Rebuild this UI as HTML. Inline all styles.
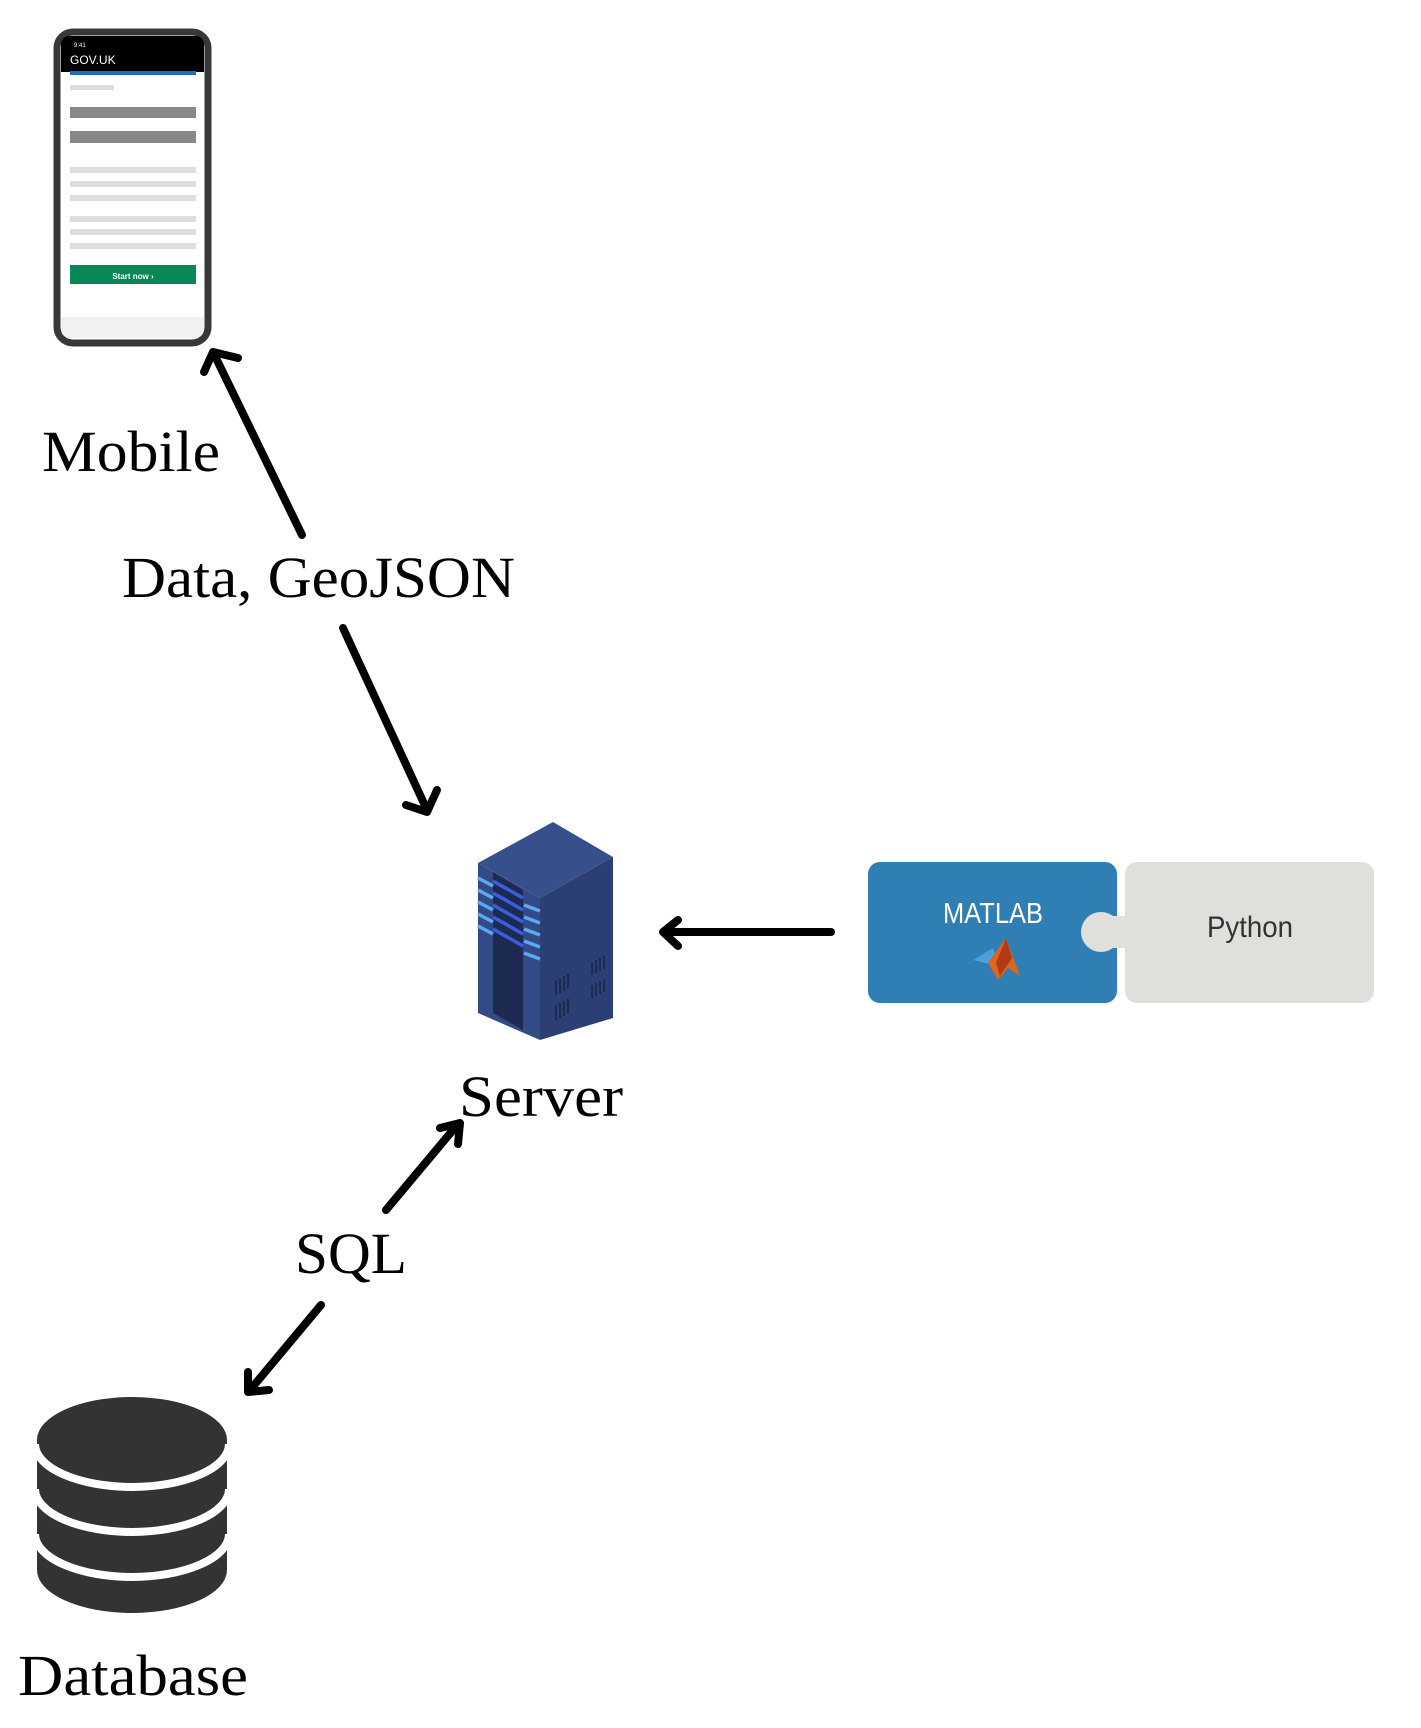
<!DOCTYPE html>
<html><head><meta charset="utf-8"><style>
html,body{margin:0;padding:0;background:#fff;}
svg{display:block;}
</style></head><body>
<svg width="1421" height="1728" viewBox="0 0 1421 1728" xmlns="http://www.w3.org/2000/svg">
<!-- Phone -->
<rect x="57" y="32" width="151" height="311" rx="16" fill="#fff" stroke="#383838" stroke-width="7"/>
<rect x="61" y="36" width="143" height="35" rx="8" fill="#000"/>
<rect x="61" y="52" width="143" height="20" fill="#000"/>
<text x="70" y="64" font-family="Liberation Sans, sans-serif" font-size="12" fill="#fff">GOV.UK</text>
<text x="74" y="47" font-family="Liberation Sans, sans-serif" font-size="6" fill="#fff">9:41</text>
<rect x="70" y="71" width="126" height="4" fill="#1d70b8"/>
<rect x="70" y="85" width="44" height="5" fill="#ddd"/>
<rect x="70" y="107" width="126" height="11" fill="#888"/>
<rect x="70" y="131" width="126" height="12" fill="#888"/>
<rect x="70" y="167" width="126" height="6" fill="#ddd"/>
<rect x="70" y="181" width="126" height="6" fill="#ddd"/>
<rect x="70" y="195" width="126" height="6" fill="#ddd"/>
<rect x="70" y="216" width="126" height="6" fill="#ddd"/>
<rect x="70" y="229" width="126" height="6" fill="#ddd"/>
<rect x="70" y="243" width="126" height="6" fill="#ddd"/>
<rect x="70" y="265" width="126" height="19" fill="#078855"/>
<text x="133" y="279" text-anchor="middle" font-family="Liberation Sans, sans-serif" font-size="8" font-weight="bold" fill="#fff">Start now ›</text>
<path d="M61 317 H204 V328 Q204 338 194 338 H71 Q61 338 61 328 Z" fill="#f2f1f0"/>

<text x="42" y="471" font-family="Liberation Serif, serif" font-size="58" textLength="178" lengthAdjust="spacingAndGlyphs">Mobile</text>
<text x="122" y="597" font-family="Liberation Serif, serif" font-size="58" textLength="393" lengthAdjust="spacingAndGlyphs">Data, GeoJSON</text>
<text x="459" y="1116" font-family="Liberation Serif, serif" font-size="58" textLength="164" lengthAdjust="spacingAndGlyphs">Server</text>
<text x="295" y="1273" font-family="Liberation Serif, serif" font-size="58" textLength="112" lengthAdjust="spacingAndGlyphs">SQL</text>
<text x="18" y="1695" font-family="Liberation Serif, serif" font-size="58" textLength="230" lengthAdjust="spacingAndGlyphs">Database</text>

<g stroke="#000" stroke-width="8" fill="none" stroke-linecap="round" stroke-linejoin="round">
<line x1="302" y1="535" x2="214" y2="354"/>
<path d="M204 372 L213 352 L238 358"/>
<line x1="343" y1="628" x2="427" y2="810"/>
<path d="M406 805 L427 812 L437 790"/>
<line x1="831" y1="932" x2="664" y2="932"/>
<path d="M678 920 L663 932 L678 946"/>
<line x1="386" y1="1210" x2="458" y2="1124"/>
<path d="M440 1128 L460 1123 L458 1144"/>
<line x1="321" y1="1305" x2="250" y2="1390"/>
<path d="M248 1372 L248 1392 L269 1390"/>
</g>

<!-- Server -->
<polygon points="553,822 613,857 540,898 478,863" fill="#374f8a"/>
<polygon points="478,863 540,898 540,1040 478,1013" fill="#324a86"/>
<polygon points="540,898 613,857 613,1018 540,1040" fill="#2c3f74"/>
<polygon points="493,872 523,890 523,1030 493,1013" fill="#1d2b52"/>
<g stroke="#5aa9f2" stroke-width="3.5">
<line x1="478" y1="878" x2="493" y2="886"/><line x1="478" y1="890" x2="493" y2="898"/>
<line x1="478" y1="902" x2="493" y2="910"/><line x1="478" y1="914" x2="493" y2="922"/>
<line x1="478" y1="926" x2="493" y2="934"/>
<line x1="524" y1="905" x2="540" y2="911"/><line x1="524" y1="917" x2="540" y2="923"/>
<line x1="524" y1="929" x2="540" y2="935"/><line x1="524" y1="941" x2="540" y2="947"/>
<line x1="524" y1="953" x2="540" y2="959"/>
</g>
<g stroke="#3b5ee0" stroke-width="3.5">
<line x1="493" y1="881" x2="523" y2="898"/><line x1="493" y1="893" x2="523" y2="910"/>
<line x1="493" y1="905" x2="523" y2="922"/><line x1="493" y1="917" x2="523" y2="934"/>
<line x1="493" y1="929" x2="523" y2="946"/>
</g>
<g stroke="#1d2b52" stroke-width="2">
<line x1="556" y1="980" x2="556" y2="995"/><line x1="560" y1="978" x2="560" y2="993"/><line x1="564" y1="976" x2="564" y2="991"/><line x1="568" y1="974" x2="568" y2="989"/>
<line x1="592" y1="962" x2="592" y2="975"/><line x1="596" y1="960" x2="596" y2="973"/><line x1="600" y1="958" x2="600" y2="971"/><line x1="604" y1="956" x2="604" y2="969"/>
<line x1="592" y1="985" x2="592" y2="998"/><line x1="596" y1="983" x2="596" y2="996"/><line x1="600" y1="981" x2="600" y2="994"/><line x1="604" y1="979" x2="604" y2="992"/>
<line x1="556" y1="1005" x2="556" y2="1020"/><line x1="560" y1="1003" x2="560" y2="1018"/><line x1="564" y1="1001" x2="564" y2="1016"/><line x1="568" y1="999" x2="568" y2="1014"/>
</g>

<!-- MATLAB / Python -->
<g transform="translate(8,8)">
<rect x="860" y="854" width="249" height="141" rx="12" fill="#2f7fb4"/>
<rect x="1117" y="854" width="249" height="141" rx="12" fill="#e0dfdb"/>
<circle cx="1093" cy="924" r="20" fill="#e0dfdb"/>
<rect x="1105" y="908" width="14" height="32" fill="#e0dfdb"/>
<text x="935" y="915" font-family="Liberation Sans, sans-serif" font-size="29" fill="#fff" textLength="100" lengthAdjust="spacingAndGlyphs">MATLAB</text>
<text x="1199" y="929" font-family="Liberation Sans, sans-serif" font-size="30" fill="#333" textLength="86" lengthAdjust="spacingAndGlyphs">Python</text>
<polygon points="965,952 985,940 990,958" fill="#4aa0e0"/>
<polygon points="980,955 998,930 1012,968 1000,960 990,972" fill="#e0641c"/>
<polygon points="998,930 1004,950 992,968 988,955" fill="#b33a14"/>
</g>

<!-- Database -->
<path d="M37 1440 A95 43 0 0 1 227 1440 V1570 A95 43 0 0 1 37 1570 Z" fill="#333"/>
<g stroke="#fff" stroke-width="8" fill="none">
<path d="M35 1444 A97 43 0 0 0 229 1444"/>
<path d="M35 1489 A97 43 0 0 0 229 1489"/>
<path d="M35 1534 A97 43 0 0 0 229 1534"/>
</g>
</svg>
</body></html>
